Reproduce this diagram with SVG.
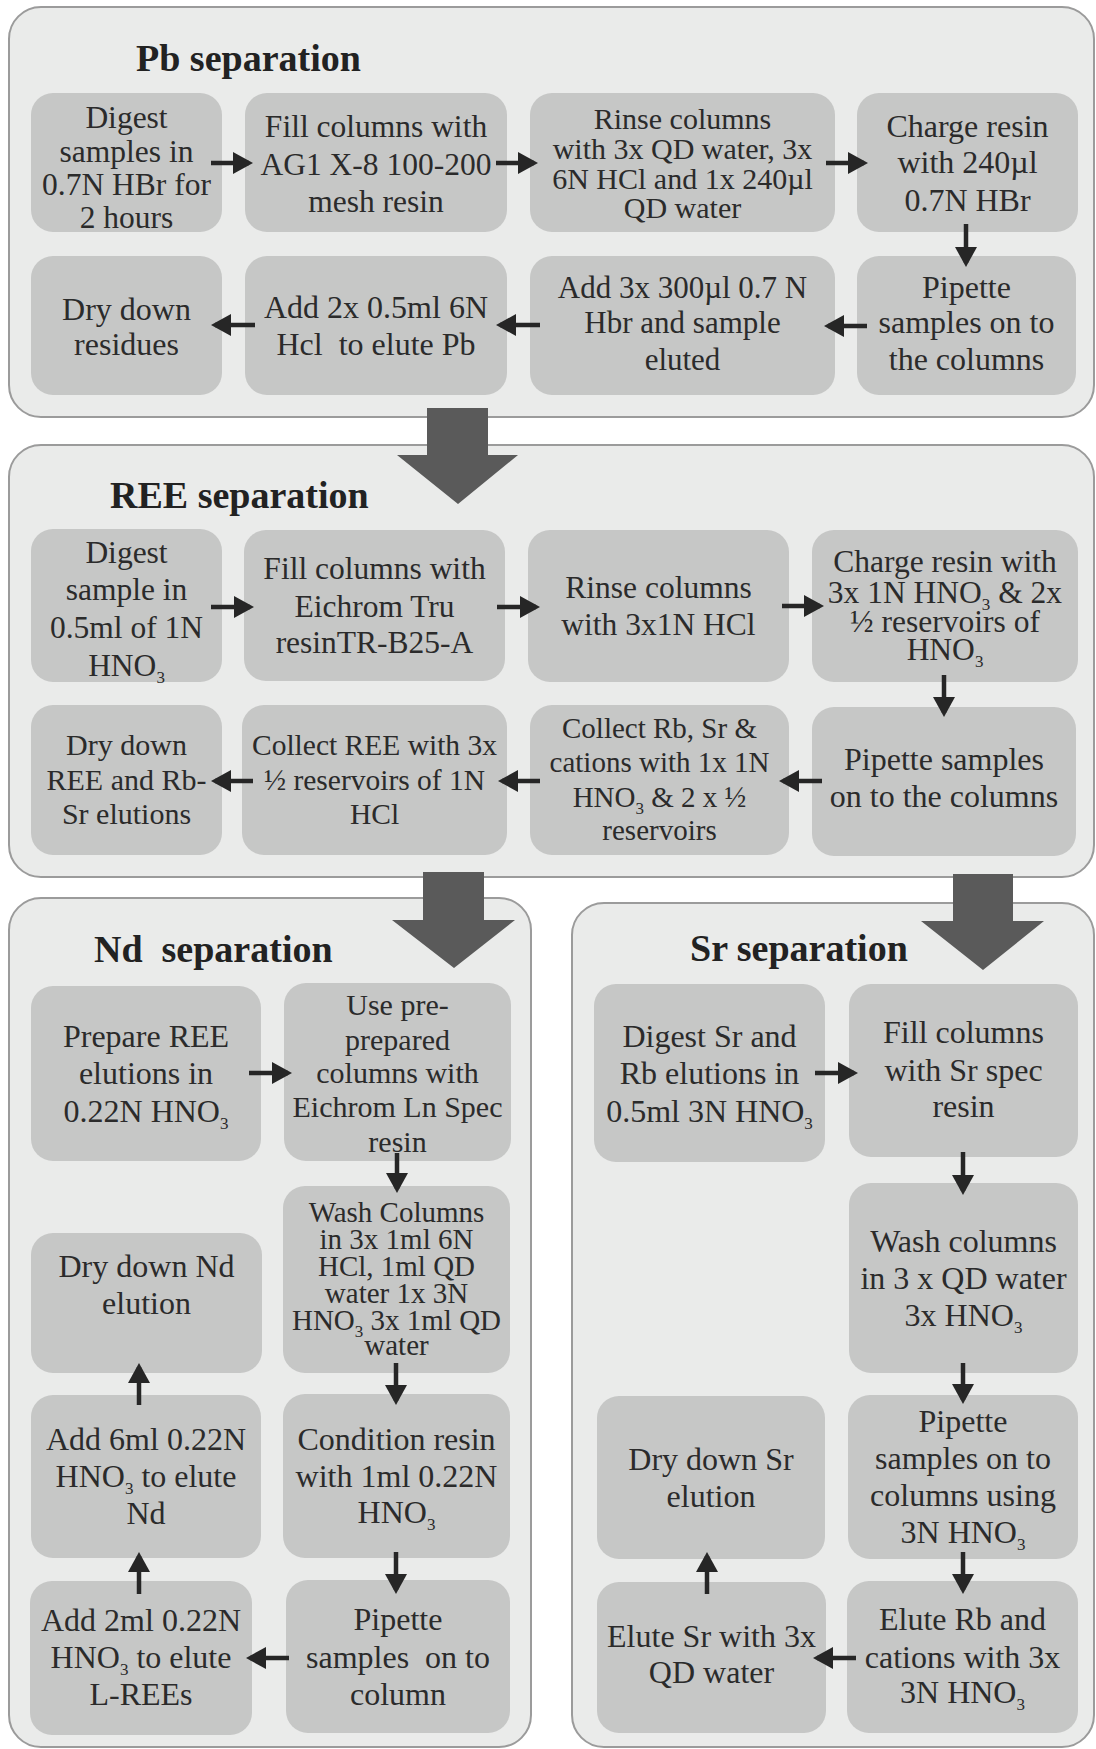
<svg xmlns="http://www.w3.org/2000/svg" width="1096" height="1749" viewBox="0 0 1096 1749">
<style>
.panel{fill:#eaebea;stroke:#9b9b9b;stroke-width:2}
.node rect{fill:#c6c7c6}
.t{font-family:"Liberation Serif","Times New Roman",serif;fill:#2b2b2b;text-anchor:middle}
.title{font-family:"Liberation Serif","Times New Roman",serif;font-weight:bold;font-size:38px;fill:#222}
.conn line{stroke:#262626;stroke-width:4.5;fill:none;marker-end:url(#ah)}
.big{fill:#5a5a5a}
.s{font-size:17px}
</style>
<defs>
<marker id="ah" markerUnits="userSpaceOnUse" markerWidth="20" markerHeight="22" refX="16" refY="11" orient="auto">
<path d="M0,0 L20,11 L0,22 z" fill="#262626"/>
</marker>
</defs>
<rect width="1096" height="1749" fill="#ffffff"/>

<g id="panel-pb"><rect class="panel" x="9" y="7" width="1085" height="410" rx="32"/><text class="title" x="136" y="71" font-size="40">Pb separation</text></g>
<g id="panel-ree"><rect class="panel" x="9" y="445" width="1085" height="432" rx="32"/><text class="title" x="110" y="508">REE separation</text></g>
<g id="panel-nd"><rect class="panel" x="9" y="898" width="522" height="849" rx="32"/><text class="title" x="94" y="962" font-size="39.5" xml:space="preserve">Nd  separation</text></g>
<g id="panel-sr"><rect class="panel" x="572" y="903" width="522" height="844" rx="32"/><text class="title" x="690" y="961" font-size="40">Sr separation</text></g>

<!-- Pb nodes -->
<g id="pb1" class="node"><rect x="31" y="93" width="191" height="139" rx="22"/><text class="t" font-size="31.5"><tspan x="126.5" y="128">Digest</tspan><tspan x="126.5" y="162">samples in</tspan><tspan x="126.5" y="195">0.7N HBr for</tspan><tspan x="126.5" y="228">2 hours</tspan></text></g>
<g id="pb2" class="node"><rect x="245" y="93" width="262" height="139" rx="22"/><text class="t" font-size="31.5"><tspan x="376" y="137">Fill columns with</tspan><tspan x="376" y="175">AG1 X-8 100-200</tspan><tspan x="376" y="212">mesh resin</tspan></text></g>
<g id="pb3" class="node"><rect x="530" y="93" width="305" height="139" rx="22"/><text class="t" font-size="30"><tspan x="682.5" y="129">Rinse columns</tspan><tspan x="682.5" y="159">with 3x QD water, 3x</tspan><tspan x="682.5" y="189">6N HCl and 1x 240µl</tspan><tspan x="682.5" y="218">QD water</tspan></text></g>
<g id="pb4" class="node"><rect x="857" y="93" width="221" height="139" rx="22"/><text class="t" font-size="32"><tspan x="967.5" y="137">Charge resin</tspan><tspan x="967.5" y="173">with 240µl</tspan><tspan x="967.5" y="211">0.7N HBr</tspan></text></g>
<g id="pb5" class="node"><rect x="31" y="256" width="191" height="139" rx="22"/><text class="t" font-size="32"><tspan x="126.5" y="320">Dry down</tspan><tspan x="126.5" y="355">residues</tspan></text></g>
<g id="pb6" class="node"><rect x="245" y="256" width="262" height="139" rx="22"/><text class="t" font-size="32" xml:space="preserve"><tspan x="376" y="318">Add 2x 0.5ml 6N</tspan><tspan x="376" y="355">Hcl  to elute Pb</tspan></text></g>
<g id="pb7" class="node"><rect x="530" y="256" width="305" height="139" rx="22"/><text class="t" font-size="31"><tspan x="682.5" y="298">Add 3x 300µl 0.7 N</tspan><tspan x="682.5" y="333">Hbr and sample</tspan><tspan x="682.5" y="370">eluted</tspan></text></g>
<g id="pb8" class="node"><rect x="857" y="256" width="219" height="139" rx="22"/><text class="t" font-size="32"><tspan x="966.5" y="298">Pipette</tspan><tspan x="966.5" y="333">samples on to</tspan><tspan x="966.5" y="370">the columns</tspan></text></g>

<!-- REE nodes -->
<g id="ree1" class="node"><rect x="31" y="529" width="191" height="153" rx="22"/><text class="t" font-size="31.5"><tspan x="126.5" y="563">Digest</tspan><tspan x="126.5" y="600">sample in</tspan><tspan x="126.5" y="638">0.5ml of 1N</tspan><tspan x="126.5" y="676">HNO<tspan class="s" dy="7">3</tspan></tspan></text></g>
<g id="ree2" class="node"><rect x="244" y="530" width="261" height="151" rx="22"/><text class="t" font-size="31.5"><tspan x="374.5" y="579">Fill columns with</tspan><tspan x="374.5" y="617">Eichrom Tru</tspan><tspan x="374.5" y="653">resinTR-B25-A</tspan></text></g>
<g id="ree3" class="node"><rect x="528" y="530" width="261" height="152" rx="22"/><text class="t" font-size="31.5"><tspan x="658.5" y="598">Rinse columns</tspan><tspan x="658.5" y="635">with 3x1N HCl</tspan></text></g>
<g id="ree4" class="node"><rect x="812" y="530" width="266" height="152" rx="22"/><text class="t" font-size="31.5"><tspan x="945" y="572">Charge resin with</tspan><tspan x="945" y="603">3x 1N HNO<tspan class="s" dy="7">3</tspan><tspan dy="-7"> &amp; 2x</tspan></tspan><tspan x="945" y="632">½ reservoirs of</tspan><tspan x="945" y="660">HNO<tspan class="s" dy="7">3</tspan></tspan></text></g>
<g id="ree5" class="node"><rect x="31" y="705" width="191" height="150" rx="22"/><text class="t" font-size="30"><tspan x="126.5" y="755">Dry down</tspan><tspan x="126.5" y="790">REE and Rb-</tspan><tspan x="126.5" y="824">Sr elutions</tspan></text></g>
<g id="ree6" class="node"><rect x="242" y="705" width="265" height="150" rx="22"/><text class="t" font-size="29.5"><tspan x="374.5" y="755">Collect REE with 3x</tspan><tspan x="374.5" y="790">½ reservoirs of 1N</tspan><tspan x="374.5" y="824">HCl</tspan></text></g>
<g id="ree7" class="node"><rect x="530" y="705" width="259" height="150" rx="22"/><text class="t" font-size="29"><tspan x="659.5" y="738">Collect Rb, Sr &amp;</tspan><tspan x="659.5" y="772">cations with 1x 1N</tspan><tspan x="659.5" y="807">HNO<tspan class="s" dy="7">3</tspan><tspan dy="-7"> &amp; 2 x ½</tspan></tspan><tspan x="659.5" y="840">reservoirs</tspan></text></g>
<g id="ree8" class="node"><rect x="812" y="707" width="264" height="149" rx="22"/><text class="t" font-size="32"><tspan x="944" y="770">Pipette samples</tspan><tspan x="944" y="807">on to the columns</tspan></text></g>

<!-- Nd nodes -->
<g id="nd1" class="node"><rect x="31" y="986" width="230" height="175" rx="22"/><text class="t" font-size="32"><tspan x="146" y="1047">Prepare REE</tspan><tspan x="146" y="1084">elutions in</tspan><tspan x="146" y="1122">0.22N HNO<tspan class="s" dy="7">3</tspan></tspan></text></g>
<g id="nd2" class="node"><rect x="284" y="983" width="227" height="178" rx="22"/><text class="t" font-size="30"><tspan x="397.5" y="1015">Use pre-</tspan><tspan x="397.5" y="1050">prepared</tspan><tspan x="397.5" y="1083">columns with</tspan><tspan x="397.5" y="1117">Eichrom Ln Spec</tspan><tspan x="397.5" y="1152">resin</tspan></text></g>
<g id="nd3" class="node"><rect x="283" y="1186" width="227" height="187" rx="22"/><text class="t" font-size="29"><tspan x="396.5" y="1222">Wash Columns</tspan><tspan x="396.5" y="1249">in 3x 1ml 6N</tspan><tspan x="396.5" y="1276">HCl, 1ml QD</tspan><tspan x="396.5" y="1303">water 1x 3N</tspan><tspan x="396.5" y="1330">HNO<tspan class="s" dy="7">3</tspan><tspan dy="-7"> 3x 1ml QD</tspan></tspan><tspan x="396.5" y="1355">water</tspan></text></g>
<g id="nd4" class="node"><rect x="31" y="1233" width="231" height="140" rx="22"/><text class="t" font-size="32"><tspan x="146.5" y="1277">Dry down Nd</tspan><tspan x="146.5" y="1314">elution</tspan></text></g>
<g id="nd5" class="node"><rect x="31" y="1395" width="230" height="163" rx="22"/><text class="t" font-size="32"><tspan x="146" y="1450">Add 6ml 0.22N</tspan><tspan x="146" y="1487">HNO<tspan class="s" dy="7">3</tspan><tspan dy="-7"> to elute</tspan></tspan><tspan x="146" y="1524">Nd</tspan></text></g>
<g id="nd6" class="node"><rect x="283" y="1394" width="227" height="164" rx="22"/><text class="t" font-size="32"><tspan x="396.5" y="1450">Condition resin</tspan><tspan x="396.5" y="1487">with 1ml 0.22N</tspan><tspan x="396.5" y="1523">HNO<tspan class="s" dy="7">3</tspan></tspan></text></g>
<g id="nd7" class="node"><rect x="30" y="1581" width="222" height="154" rx="22"/><text class="t" font-size="32"><tspan x="141" y="1631">Add 2ml 0.22N</tspan><tspan x="141" y="1668">HNO<tspan class="s" dy="7">3</tspan><tspan dy="-7"> to elute</tspan></tspan><tspan x="141" y="1705">L-REEs</tspan></text></g>
<g id="nd8" class="node"><rect x="286" y="1580" width="224" height="153" rx="22"/><text class="t" font-size="32" xml:space="preserve"><tspan x="398" y="1630">Pipette</tspan><tspan x="398" y="1668">samples  on to</tspan><tspan x="398" y="1705">column</tspan></text></g>

<!-- Sr nodes -->
<g id="sr1" class="node"><rect x="594" y="984" width="231" height="178" rx="22"/><text class="t" font-size="32"><tspan x="709.5" y="1047">Digest Sr and</tspan><tspan x="709.5" y="1084">Rb elutions in</tspan><tspan x="709.5" y="1122">0.5ml 3N HNO<tspan class="s" dy="7">3</tspan></tspan></text></g>
<g id="sr2" class="node"><rect x="849" y="984" width="229" height="173" rx="22"/><text class="t" font-size="32"><tspan x="963.5" y="1043">Fill columns</tspan><tspan x="963.5" y="1081">with Sr spec</tspan><tspan x="963.5" y="1117">resin</tspan></text></g>
<g id="sr3" class="node"><rect x="849" y="1183" width="229" height="190" rx="22"/><text class="t" font-size="32"><tspan x="963.5" y="1252">Wash columns</tspan><tspan x="963.5" y="1289">in 3 x QD water</tspan><tspan x="963.5" y="1326">3x HNO<tspan class="s" dy="7">3</tspan></tspan></text></g>
<g id="sr4" class="node"><rect x="597" y="1396" width="228" height="163" rx="22"/><text class="t" font-size="32"><tspan x="711" y="1470">Dry down Sr</tspan><tspan x="711" y="1507">elution</tspan></text></g>
<g id="sr5" class="node"><rect x="848" y="1395" width="230" height="164" rx="22"/><text class="t" font-size="32"><tspan x="963" y="1432">Pipette</tspan><tspan x="963" y="1469">samples on to</tspan><tspan x="963" y="1506">columns using</tspan><tspan x="963" y="1543">3N HNO<tspan class="s" dy="7">3</tspan></tspan></text></g>
<g id="sr6" class="node"><rect x="597" y="1582" width="229" height="151" rx="22"/><text class="t" font-size="32"><tspan x="711.5" y="1647">Elute Sr with 3x</tspan><tspan x="711.5" y="1683">QD water</tspan></text></g>
<g id="sr7" class="node"><rect x="847" y="1581" width="231" height="152" rx="22"/><text class="t" font-size="32"><tspan x="962.5" y="1630">Elute Rb and</tspan><tspan x="962.5" y="1668">cations with 3x</tspan><tspan x="962.5" y="1703">3N HNO<tspan class="s" dy="7">3</tspan></tspan></text></g>

<g id="connectors" class="conn">
<polygon class="big" points="427,408 488,408 488,455 518,455 458,504 397,455 427,455"/>
<polygon class="big" points="423,872 484,872 484,920 515,920 454,968 392,920 423,920"/>
<polygon class="big" points="953,874 1013,874 1013,921 1044,921 983,970 921,921 953,921"/>
<line x1="211" y1="163" x2="249" y2="163"/>
<line x1="496" y1="163" x2="534" y2="163"/>
<line x1="826" y1="163" x2="864" y2="163"/>
<line x1="966" y1="224" x2="966" y2="263"/>
<line x1="867" y1="326" x2="828" y2="326"/>
<line x1="540" y1="325" x2="500" y2="325"/>
<line x1="255" y1="325" x2="215" y2="325"/>
<line x1="211" y1="607" x2="250" y2="607"/>
<line x1="497" y1="607" x2="536" y2="607"/>
<line x1="782" y1="606" x2="820" y2="606"/>
<line x1="944" y1="675" x2="944" y2="713"/>
<line x1="822" y1="781" x2="783" y2="781"/>
<line x1="540" y1="781" x2="502" y2="781"/>
<line x1="253" y1="781" x2="215" y2="781"/>
<line x1="249" y1="1073" x2="288" y2="1073"/>
<line x1="397" y1="1153" x2="397" y2="1189"/>
<line x1="396" y1="1363" x2="396" y2="1401"/>
<line x1="396" y1="1552" x2="396" y2="1590"/>
<line x1="289" y1="1658" x2="250" y2="1658"/>
<line x1="139" y1="1594" x2="139" y2="1556"/>
<line x1="139" y1="1405" x2="139" y2="1367"/>
<line x1="815" y1="1073" x2="854" y2="1073"/>
<line x1="963" y1="1152" x2="963" y2="1191"/>
<line x1="963" y1="1363" x2="963" y2="1400"/>
<line x1="963" y1="1552" x2="963" y2="1590"/>
<line x1="856" y1="1658" x2="817" y2="1658"/>
<line x1="707" y1="1594" x2="707" y2="1556"/>
</g>
</svg>
